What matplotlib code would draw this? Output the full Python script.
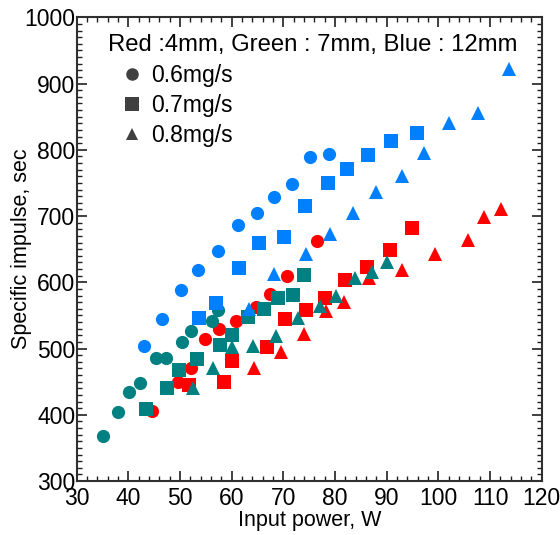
import matplotlib
matplotlib.use('Agg')
import matplotlib.pyplot as plt
from matplotlib.lines import Line2D
from matplotlib.ticker import MultipleLocator

plt.rcParams['font.family'] = ['Liberation Sans', 'DejaVu Sans']

# Input power (W) and specific impulse (sec), per anode size and flow rate
# 4 mm (red)
red_06_w = [44.5, 49.7, 52.1, 54.9, 57.6, 60.8, 64.7, 67.5, 70.7, 76.6]
red_06_isp = [406, 449, 470, 514, 530, 541, 563, 582, 609, 663]
red_07_w = [51.8, 58.6, 60.1, 66.8, 70.3, 74.4, 78.1, 81.9, 86.1, 90.6, 94.9]
red_07_isp = [445, 450, 481, 502, 544, 558, 577, 604, 623, 649, 682]
red_08_w = [64.4, 69.5, 73.9, 78.2, 81.8, 86.6, 92.9, 99.3, 105.8, 108.8, 112.1]
red_08_isp = [470, 494, 522, 556, 570, 606, 618, 643, 664, 698, 710]

# 7 mm (green)
green_06_w = [35.0, 37.9, 40.1, 42.3, 45.3, 47.3, 50.4, 52.2, 56.2, 57.4]
green_06_isp = [368, 404, 435, 448, 486, 486, 510, 527, 541, 558]
green_07_w = [43.5, 47.4, 49.8, 53.2, 57.7, 60.0, 63.1, 66.3, 69.0, 71.8, 74.0]
green_07_isp = [409, 441, 467, 484, 505, 520, 547, 559, 576, 581, 611]
green_08_w = [52.6, 56.3, 60.1, 64.1, 68.5, 72.8, 77.0, 80.2, 83.9, 87.1, 90.0]
green_08_isp = [441, 471, 503, 504, 519, 546, 564, 579, 606, 615, 631]

# 12 mm (blue)
blue_06_w = [43.1, 46.6, 50.1, 53.5, 57.3, 61.2, 64.8, 68.2, 71.7, 75.2, 78.8]
blue_06_isp = [504, 544, 589, 619, 647, 686, 705, 729, 749, 789, 794]
blue_07_w = [53.7, 57.0, 61.5, 65.3, 70.1, 74.2, 78.6, 82.3, 86.3, 90.8, 95.9]
blue_07_isp = [546, 568, 621, 659, 668, 715, 750, 771, 792, 813, 825]
blue_08_w = [63.3, 68.2, 74.4, 79.0, 83.4, 87.9, 93.0, 97.3, 102.0, 107.6, 113.6]
blue_08_isp = [559, 613, 642, 673, 704, 736, 760, 795, 840, 856, 922]

flow_labels = ['0.6mg/s', '0.7mg/s', '0.8mg/s']

RED = '#ff0000'
GREEN = '#008080'
BLUE = '#0080ff'
KEY = '#404040'
marker_size = {'o': 9.5, 's': 10, '^': 9.5}

fig = plt.figure(figsize=(5.6, 5.35), dpi=100)
ax = fig.add_axes([0.137, 0.1009, 0.8303, 0.8668])

series = [
    (red_06_w, red_06_isp, RED, 'o'),
    (red_07_w, red_07_isp, RED, 's'),
    (red_08_w, red_08_isp, RED, '^'),
    (green_06_w, green_06_isp, GREEN, 'o'),
    (green_07_w, green_07_isp, GREEN, 's'),
    (green_08_w, green_08_isp, GREEN, '^'),
    (blue_06_w, blue_06_isp, BLUE, 'o'),
    (blue_07_w, blue_07_isp, BLUE, 's'),
    (blue_08_w, blue_08_isp, BLUE, '^'),
]
for w, isp, color, m in series:
    ax.plot(w, isp, ls='', marker=m, ms=marker_size[m], color=color,
            markeredgewidth=0)

ax.set_xlim(30, 120)
ax.set_ylim(300, 1000)
ax.xaxis.set_major_locator(MultipleLocator(10))
ax.xaxis.set_minor_locator(MultipleLocator(2))
ax.yaxis.set_major_locator(MultipleLocator(100))
ax.yaxis.set_minor_locator(MultipleLocator(10))
ax.tick_params(which='both', direction='in', top=True, right=True,
               color='#202020', labelsize=16.5)
ax.tick_params(axis='x', pad=4)
ax.tick_params(axis='y', pad=1)
ax.tick_params(which='major', length=7, width=1.2)
ax.tick_params(which='minor', length=3.5, width=1.0)
for sp in ax.spines.values():
    sp.set_linewidth(1.5)
    sp.set_color('#303030')

ax.set_xlabel('Input power, W', fontsize=15.5)
ax.set_ylabel('Specific impulse, sec', fontsize=15.5)
ax.xaxis.set_label_coords(0.5, -0.062)
ax.yaxis.set_label_coords(-0.097, 0.5)

ax.text(0.067, 0.94, 'Red :4mm, Green : 7mm, Blue : 12mm', transform=ax.transAxes,
        fontsize=17.2, va='center', ha='left')

handles = [Line2D([], [], ls='', marker=m, ms=marker_size[m] * 0.95, color=KEY,
                  markeredgewidth=0) for m in ['o', 's', '^']]
ax.legend(handles, flow_labels, loc='upper left', bbox_to_anchor=(0.095, 0.9),
          frameon=False, fontsize=16.5, handlelength=1.0, handletextpad=0.3,
          labelspacing=0.32, borderaxespad=0, borderpad=0)

fig.savefig('out.png', dpi=100)
